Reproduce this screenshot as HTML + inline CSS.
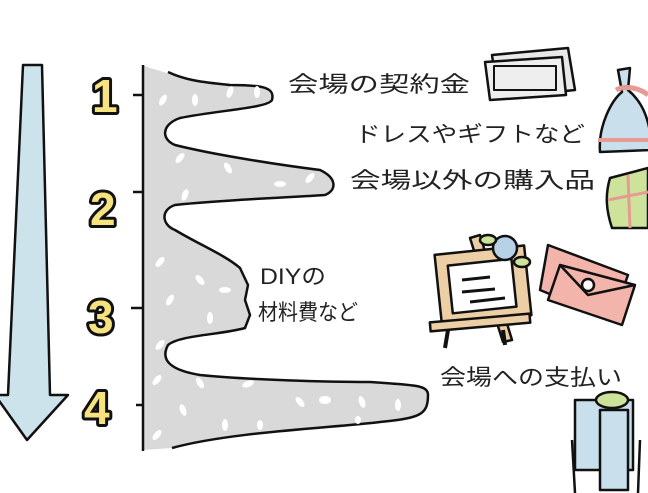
<!DOCTYPE html>
<html><head><meta charset="utf-8"><style>
html,body{margin:0;padding:0;background:#fff;width:648px;height:493px;overflow:hidden}
svg{display:block}
.t{font-family:"Liberation Sans","Noto Sans CJK JP",sans-serif;font-size:22px;fill:#222}
.n{font-family:"Liberation Sans",sans-serif;font-weight:bold;font-size:46px;fill:#f6e27f;stroke:#111;stroke-width:6;paint-order:stroke;stroke-linejoin:round}
</style></head><body>
<svg width="648" height="493" viewBox="0 0 648 493" xmlns="http://www.w3.org/2000/svg">
<path d="M23,65 L42,65 L50,395 L68,395 L27,440 L-5,395 L8,395 Z" fill="#cde3ec" stroke="#111" stroke-width="2.5" stroke-linejoin="round"/>
<text class="n" x="92" y="112">1</text>
<text class="n" x="90" y="225">2</text>
<text class="n" x="88" y="333">3</text>
<text class="n" x="84" y="424">4</text>
<g stroke="#111" stroke-width="2.5">
<line x1="133" y1="95" x2="143" y2="95"/><line x1="133" y1="192" x2="143" y2="192"/>
<line x1="131" y1="308" x2="143" y2="308"/><line x1="136" y1="405" x2="143" y2="405"/>
</g>
<path d="M143,65 L150,68 C175,75 185,80 230,85 C265,85 275,88 272,100 C268,108 220,110 180,118 C160,125 162,140 175,145 C215,155 280,165 320,170 C337,178 337,190 325,195 C280,198 220,200 175,205 C160,210 162,225 175,230 C200,245 225,255 240,268 L248,285 L245,300 L250,315 L245,328 C220,335 180,335 168,345 C160,360 170,370 200,375 C250,380 330,382 370,382 C415,385 428,385 428,395 C428,415 420,418 380,422 C330,428 230,432 172,448 L143,450 Z" fill="#d9d9d9"/>
<path d="M168,72 C185,80 200,82 230,85 C265,85 275,88 272,100 C268,108 220,110 180,118 C160,125 162,140 175,145 C215,155 280,165 320,170 C337,178 337,190 325,195 C280,198 220,200 175,205 C160,210 162,225 175,230 C200,245 225,255 240,268 L248,285 L245,300 L250,315 L245,328 C220,335 180,335 168,345 C160,360 170,370 200,375 C250,380 330,382 370,382 C415,385 428,385 428,395 C428,415 420,418 380,422 C330,428 230,432 172,448" fill="none" stroke="#111" stroke-width="2.5"/>
<line x1="143" y1="65" x2="143" y2="451" stroke="#111" stroke-width="2.5"/>
<g fill="#fff">
<ellipse cx="163" cy="100" rx="3" ry="6" transform="rotate(30 163 100)"/>
<ellipse cx="195" cy="100" rx="3" ry="6"/><ellipse cx="230" cy="92" rx="3" ry="6" transform="rotate(20 230 92)"/>
<ellipse cx="257" cy="92" rx="3" ry="6"/><ellipse cx="180" cy="158" rx="3" ry="6" transform="rotate(40 180 158)"/>
<ellipse cx="228" cy="168" rx="3" ry="6" transform="rotate(-30 228 168)"/><ellipse cx="280" cy="184" rx="6" ry="3"/>
<ellipse cx="310" cy="178" rx="3" ry="6" transform="rotate(40 310 178)"/><ellipse cx="185" cy="195" rx="3" ry="6" transform="rotate(20 185 195)"/>
<ellipse cx="160" cy="262" rx="3" ry="6" transform="rotate(40 160 262)"/><ellipse cx="200" cy="280" rx="3" ry="6" transform="rotate(-40 200 280)"/>
<ellipse cx="225" cy="290" rx="6" ry="3"/><ellipse cx="170" cy="300" rx="3" ry="6" transform="rotate(30 170 300)"/>
<ellipse cx="210" cy="318" rx="3" ry="6"/><ellipse cx="160" cy="345" rx="3" ry="6" transform="rotate(40 160 345)"/>
<ellipse cx="157" cy="380" rx="3" ry="6" transform="rotate(40 157 380)"/><ellipse cx="200" cy="383" rx="3" ry="6" transform="rotate(-30 200 383)"/>
<ellipse cx="248" cy="384" rx="6" ry="3" transform="rotate(-20 248 384)"/><ellipse cx="183" cy="410" rx="3" ry="6" transform="rotate(-20 183 410)"/>
<ellipse cx="225" cy="425" rx="3" ry="6"/><ellipse cx="260" cy="425" rx="3" ry="5"/>
<ellipse cx="300" cy="402" rx="3" ry="6" transform="rotate(-40 300 402)"/><ellipse cx="325" cy="400" rx="6" ry="4"/>
<ellipse cx="362" cy="402" rx="3" ry="6" transform="rotate(-20 362 402)"/><ellipse cx="398" cy="405" rx="3" ry="6"/>
<ellipse cx="157" cy="435" rx="3" ry="6" transform="rotate(40 157 435)"/><ellipse cx="358" cy="420" rx="3" ry="4"/>
</g>
<text class="t" x="288" y="92" textLength="182" lengthAdjust="spacingAndGlyphs">会場の契約金</text>
<text class="t" x="355" y="142" textLength="230" lengthAdjust="spacingAndGlyphs">ドレスやギフトなど</text>
<text class="t" x="350" y="188" textLength="245" lengthAdjust="spacingAndGlyphs">会場以外の購入品</text>
<text class="t" x="260" y="284" textLength="66" lengthAdjust="spacingAndGlyphs">DIYの</text>
<text class="t" x="258" y="320" textLength="100" lengthAdjust="spacingAndGlyphs">材料費など</text>
<text class="t" x="440" y="385" textLength="182" lengthAdjust="spacingAndGlyphs">会場への支払い</text>
<g stroke="#111" stroke-width="2.5" stroke-linejoin="round">
<path d="M492,55 L568,48 L575,90 L498,98 Z" fill="#e9e9e9"/>
<path d="M485,62 L562,57 L566,95 L490,100 Z" fill="#eee"/>
<rect x="494" y="66" width="62" height="24" fill="none" stroke-width="2"/>
<path d="M618,70 L630,68 L628,90 C640,100 650,115 652,150 L600,152 C598,125 612,100 622,92 Z" fill="#c9e0ec"/>
<path d="M598,140 L652,140" stroke="#e59a93" stroke-width="4"/>
<path d="M616,90 C625,85 640,88 648,95" stroke="#e59a93" stroke-width="5" fill="none"/>
<path d="M610,178 L648,168 L648,228 L612,228 C606,210 605,195 610,178 Z" fill="#cde39a"/>
<path d="M628,175 L630,228 M608,200 L648,192" stroke="#e59a93" stroke-width="3"/>
<path d="M470,238 L480,235 L512,340 L503,342 Z" fill="#eccfa5"/>
<rect x="438" y="250" width="90" height="70" fill="#eccfa5" transform="rotate(-6 483 285)"/>
<rect x="450" y="262" width="64" height="48" fill="#fff" transform="rotate(-6 483 285)"/>
<path d="M462,280 L490,277 M462,292 L495,289 M470,302 L505,298" stroke-width="3"/>
<rect x="430" y="318" width="100" height="9" fill="#eccfa5" transform="rotate(-5 480 322)"/>
<path d="M448,330 L445,348 M503,330 L505,345" stroke-width="4"/>
<circle cx="505" cy="248" r="12" fill="#b7d1e6"/>
<ellipse cx="488" cy="240" rx="8" ry="5" fill="#cde39a"/><ellipse cx="522" cy="262" rx="8" ry="5" fill="#cde39a"/>
<path d="M548,245 L628,275 L612,320 L540,290 Z" fill="#f2b4ab"/>
<path d="M560,265 L635,285 L622,325 L548,300 Z" fill="#f2b4ab"/>
<path d="M560,265 L588,295 L635,285" fill="none"/>
<circle cx="588" cy="285" r="6" fill="#fff"/>
<rect x="575" y="400" width="58" height="70" fill="#c9e0ec"/>
<rect x="600" y="410" width="28" height="80" fill="#c9e0ec"/>
<path d="M572,440 L575,493 M640,440 L638,493" fill="none"/>
<ellipse cx="612" cy="400" rx="16" ry="8" fill="#cde39a"/>
</g>
</svg>
</body></html>
